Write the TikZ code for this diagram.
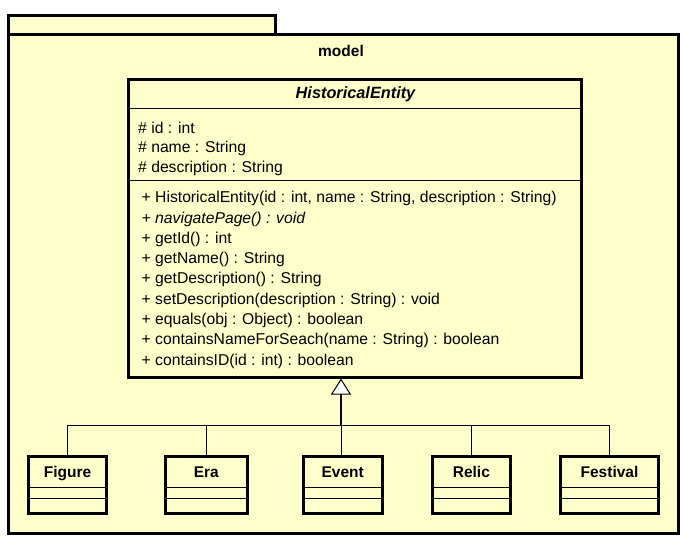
\documentclass[tikz,border=0pt]{standalone}
\usepackage{fontspec}
\setmainfont{Liberation Sans}
\usetikzlibrary{arrows.meta}
\definecolor{umlfill}{HTML}{FFFFCC}

\begin{document}
\begin{tikzpicture}[x=1pt,y=-1pt,
                    every node/.style={font=\fontsize{15.7}{18}\selectfont},
                    pkg box/.style={draw,line width=3pt,fill=umlfill,inner sep=0pt},
                    class box/.style={draw,line width=3pt,fill=umlfill,inner sep=0pt},
                    sub box/.style={class box,minimum height=57},
                    member/.style={anchor=base west,inner sep=0pt},
                    sub name/.style={anchor=base,inner sep=0pt,font=\fontsize{15.5}{18}\selectfont\bfseries},
                    sep/.style={line width=1pt},
                    link/.style={line width=1pt},
                    generalize/.style={line width=1.6pt,-{Triangle[open,width=20pt,length=16pt,line width=1pt,fill=white]}}
                   ]
  \useasboundingbox[fill=white] (0,0) rectangle (685,544);

  % package
  \node[pkg box,minimum width=267,minimum height=18.5] (tab) at (142,24.75) {};
  \node[pkg box,minimum width=670,minimum height=499.5] (model) at (343.5,283.75) {};
  \node[anchor=base,inner sep=0pt,font=\fontsize{15.5}{18}\selectfont\bfseries] (modelname) at (341,56) {model};

  % superclass
  \node[class box,minimum width=453,minimum height=298] (entity) at (355,228) {};
  \node[anchor=base,inner sep=0pt,font=\fontsize{16.3}{18}\selectfont\bfseries\itshape] (entityname) at (355.5,98) {HistoricalEntity};
  \draw[sep] (entity.west |- 0,108) -- (entity.east |- 0,108);
  \draw[sep] (entity.west |- 0,180) -- (entity.east |- 0,180);

  \node[member] (a1) at (138,133) {\# id : int};
  \node[member] (a2) at (138,152.5) {\# name : String};
  \node[member] (a3) at (138,172) {\# description : String};

  \node[member] (m1) at (141.5,202.7) {+ HistoricalEntity(id : int, name : String, description : String)};
  \node[member] (m2) at (141.5,223) {\itshape + navigatePage() : void};
  \node[member] (m3) at (141.5,243.3) {+ getId() : int};
  \node[member] (m4) at (141.5,263.6) {+ getName() : String};
  \node[member] (m5) at (141.5,283.9) {+ getDescription() : String};
  \node[member] (m6) at (141.5,304.2) {+ setDescription(description : String) : void};
  \node[member] (m7) at (141.5,324.5) {+ equals(obj : Object) : boolean};
  \node[member] (m8) at (141.5,344.8) {+ containsNameForSeach(name : String) : boolean};
  \node[member] (m9) at (141.5,365.1) {+ containsID(id : int) : boolean};

  % subclasses
  \node[sub box,minimum width=78] (figure) at (67.5,485) {};
  \node[sub box,minimum width=81.7] (era) at (206.35,485) {};
  \node[sub box,minimum width=79] (event) at (342.7,485) {};
  \node[sub box,minimum width=78.3] (relic) at (471.35,485) {};
  \node[sub box,minimum width=97.4] (festival) at (609.5,485) {};

  \node[sub name] at ([yshift=7.3pt]figure.center) {Figure};
  \node[sub name] at ([yshift=7.3pt]era.center) {Era};
  \node[sub name] at ([yshift=7.3pt]event.center) {Event};
  \node[sub name] at ([yshift=7.3pt]relic.center) {Relic};
  \node[sub name] at ([yshift=7.3pt]festival.center) {Festival};

  \draw[sep] ([yshift=-2.3pt]figure.west) -- ([yshift=-2.3pt]figure.east);
  \draw[sep] ([yshift=-13.3pt]figure.west) -- ([yshift=-13.3pt]figure.east);
  \draw[sep] ([yshift=-2.3pt]era.west) -- ([yshift=-2.3pt]era.east);
  \draw[sep] ([yshift=-13.3pt]era.west) -- ([yshift=-13.3pt]era.east);
  \draw[sep] ([yshift=-2.3pt]event.west) -- ([yshift=-2.3pt]event.east);
  \draw[sep] ([yshift=-13.3pt]event.west) -- ([yshift=-13.3pt]event.east);
  \draw[sep] ([yshift=-2.3pt]relic.west) -- ([yshift=-2.3pt]relic.east);
  \draw[sep] ([yshift=-13.3pt]relic.west) -- ([yshift=-13.3pt]relic.east);
  \draw[sep] ([yshift=-2.3pt]festival.west) -- ([yshift=-2.3pt]festival.east);
  \draw[sep] ([yshift=-13.3pt]festival.west) -- ([yshift=-13.3pt]festival.east);

  % generalization
  \coordinate (join) at (341,425);
  \path[link]%
   (figure.north) edge[-] (figure.north |- join)
   (era.north) edge[-] (era.north |- join)
   (relic.north) edge[-] (relic.north |- join)
   (festival.north) edge[-] (festival.north |- join)
   (event.north -| join) edge[-] (join);
  \draw[link] (figure.north |- join) -- (festival.north |- join);
  \draw[generalize] (join) -- (entity.south -| join);
\end{tikzpicture}
\end{document}
